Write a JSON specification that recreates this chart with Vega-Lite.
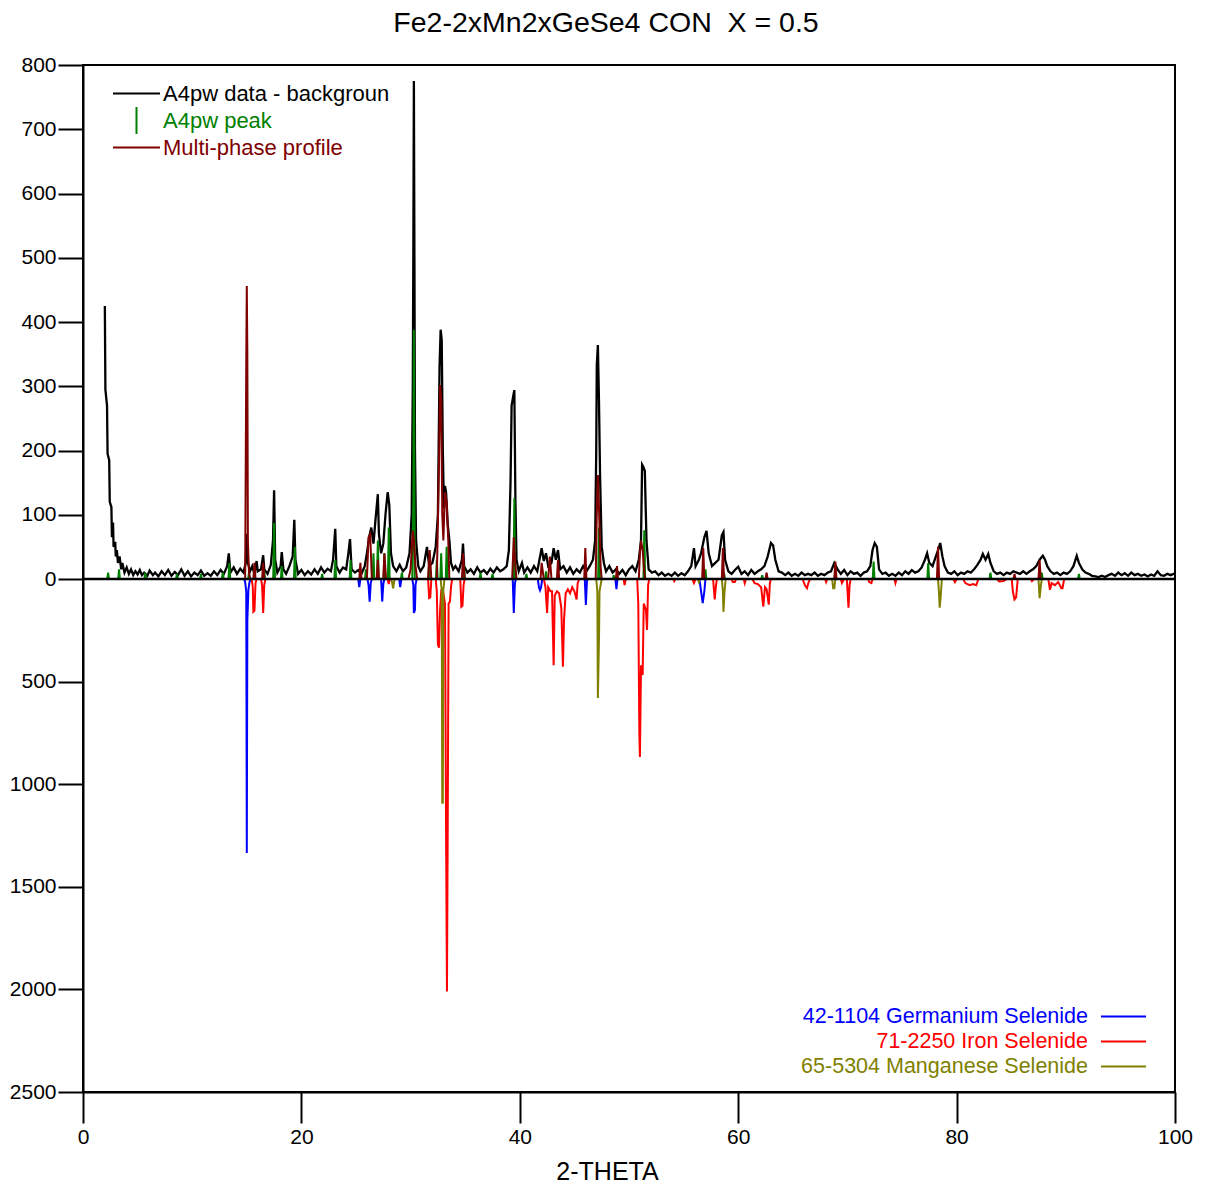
{
"$schema": "https://vega.github.io/schema/vega-lite/v6.json",
"width": 1092, "height": 1027,
"autosize": {"type": "none"},
"padding": {"left": 83, "top": 65, "right": 39, "bottom": 98},
"background": "white",
"title": {"text": "Fe2-2xMn2xGeSe4 CON\u00a0 X = 0.5", "fontSize": 28.5, "fontWeight": "normal", "color": "#000000", "anchor": "middle", "dx": -23, "offset": 17},
"datasets": {
"bg": [
{"theta":2.0,"counts":425},{"theta":2.05,"counts":295},{"theta":2.2,"counts":270},{"theta":2.25,"counts":195},{"theta":2.4,"counts":185},{"theta":2.45,"counts":120},{"theta":2.6,"counts":112},{"theta":2.65,"counts":65},{"theta":2.75,"counts":88},{"theta":2.8,"counts":50},{"theta":2.95,"counts":58},{"theta":3.0,"counts":35},{"theta":3.1,"counts":45},{"theta":3.2,"counts":25},{"theta":3.35,"counts":35},{"theta":3.5,"counts":15},{"theta":3.6,"counts":25},{"theta":3.8,"counts":10},{"theta":4.0,"counts":18},{"theta":4.2,"counts":8},{"theta":4.4,"counts":15},{"theta":4.6,"counts":6},{"theta":4.8,"counts":12},{"theta":5.0,"counts":7},{"theta":5.2,"counts":14},{"theta":5.4,"counts":6},{"theta":5.6,"counts":10},{"theta":5.9,"counts":5},{"theta":6.1,"counts":13},{"theta":6.4,"counts":6},{"theta":6.6,"counts":10},{"theta":6.9,"counts":4},{"theta":7.2,"counts":12},{"theta":7.5,"counts":6},{"theta":7.8,"counts":14},{"theta":8.1,"counts":5},{"theta":8.4,"counts":11},{"theta":8.7,"counts":6},{"theta":9.0,"counts":15},{"theta":9.3,"counts":5},{"theta":9.6,"counts":12},{"theta":9.9,"counts":4},{"theta":10.2,"counts":10},{"theta":10.5,"counts":6},{"theta":10.8,"counts":13},{"theta":11.1,"counts":5},{"theta":11.4,"counts":9},{"theta":11.7,"counts":5},{"theta":12.0,"counts":12},{"theta":12.3,"counts":6},{"theta":12.6,"counts":14},{"theta":12.9,"counts":8},{"theta":13.2,"counts":20},{"theta":13.35,"counts":40},{"theta":13.5,"counts":10},{"theta":13.8,"counts":18},{"theta":14.1,"counts":8},{"theta":14.4,"counts":16},{"theta":14.7,"counts":10},{"theta":14.9,"counts":25},{"theta":15.0,"counts":70},{"theta":15.1,"counts":25},{"theta":15.3,"counts":12},{"theta":15.5,"counts":20},{"theta":15.7,"counts":8},{"theta":15.9,"counts":28},{"theta":16.0,"counts":12},{"theta":16.3,"counts":15},{"theta":16.5,"counts":37},{"theta":16.6,"counts":15},{"theta":16.9,"counts":8},{"theta":17.2,"counts":22},{"theta":17.4,"counts":60},{"theta":17.5,"counts":138},{"theta":17.6,"counts":30},{"theta":17.8,"counts":10},{"theta":18.1,"counts":20},{"theta":18.2,"counts":42},{"theta":18.35,"counts":15},{"theta":18.6,"counts":8},{"theta":18.9,"counts":20},{"theta":19.2,"counts":35},{"theta":19.35,"counts":92},{"theta":19.45,"counts":30},{"theta":19.7,"counts":8},{"theta":20.0,"counts":14},{"theta":20.3,"counts":6},{"theta":20.6,"counts":12},{"theta":20.9,"counts":7},{"theta":21.2,"counts":15},{"theta":21.5,"counts":8},{"theta":21.8,"counts":18},{"theta":22.1,"counts":10},{"theta":22.4,"counts":16},{"theta":22.7,"counts":12},{"theta":22.9,"counts":30},{"theta":23.1,"counts":78},{"theta":23.2,"counts":20},{"theta":23.5,"counts":10},{"theta":23.8,"counts":18},{"theta":24.1,"counts":15},{"theta":24.3,"counts":40},{"theta":24.45,"counts":62},{"theta":24.6,"counts":15},{"theta":24.9,"counts":10},{"theta":25.2,"counts":14},{"theta":25.5,"counts":8},{"theta":25.8,"counts":20},{"theta":26.0,"counts":40},{"theta":26.2,"counts":65},{"theta":26.4,"counts":80},{"theta":26.6,"counts":55},{"theta":26.8,"counts":95},{"theta":27.0,"counts":132},{"theta":27.1,"counts":70},{"theta":27.3,"counts":40},{"theta":27.5,"counts":55},{"theta":27.7,"counts":100},{"theta":27.9,"counts":135},{"theta":28.05,"counts":115},{"theta":28.2,"counts":40},{"theta":28.4,"counts":20},{"theta":28.7,"counts":12},{"theta":29.0,"counts":22},{"theta":29.3,"counts":12},{"theta":29.6,"counts":18},{"theta":29.9,"counts":40},{"theta":30.1,"counts":100},{"theta":30.2,"counts":300},{"theta":30.25,"counts":505},{"theta":30.3,"counts":775},{"theta":30.35,"counts":500},{"theta":30.4,"counts":200},{"theta":30.5,"counts":60},{"theta":30.7,"counts":20},{"theta":30.9,"counts":12},{"theta":31.2,"counts":20},{"theta":31.5,"counts":50},{"theta":31.7,"counts":20},{"theta":32.0,"counts":25},{"theta":32.3,"counts":50},{"theta":32.5,"counts":100},{"theta":32.65,"counts":330},{"theta":32.75,"counts":388},{"theta":32.85,"counts":372},{"theta":32.95,"counts":200},{"theta":33.05,"counts":110},{"theta":33.15,"counts":145},{"theta":33.25,"counts":135},{"theta":33.4,"counts":85},{"theta":33.55,"counts":60},{"theta":33.7,"counts":25},{"theta":33.9,"counts":15},{"theta":34.1,"counts":20},{"theta":34.4,"counts":12},{"theta":34.7,"counts":30},{"theta":34.8,"counts":55},{"theta":34.9,"counts":20},{"theta":35.2,"counts":10},{"theta":35.5,"counts":15},{"theta":35.8,"counts":8},{"theta":36.1,"counts":18},{"theta":36.4,"counts":10},{"theta":36.7,"counts":14},{"theta":37.0,"counts":8},{"theta":37.3,"counts":16},{"theta":37.6,"counts":10},{"theta":37.9,"counts":18},{"theta":38.2,"counts":12},{"theta":38.5,"counts":15},{"theta":38.8,"counts":20},{"theta":39.0,"counts":45},{"theta":39.15,"counts":150},{"theta":39.25,"counts":270},{"theta":39.4,"counts":285},{"theta":39.5,"counts":294},{"theta":39.6,"counts":120},{"theta":39.7,"counts":30},{"theta":39.9,"counts":12},{"theta":40.2,"counts":25},{"theta":40.4,"counts":10},{"theta":40.7,"counts":18},{"theta":41.0,"counts":10},{"theta":41.3,"counts":20},{"theta":41.6,"counts":12},{"theta":41.8,"counts":30},{"theta":42.0,"counts":48},{"theta":42.2,"counts":28},{"theta":42.4,"counts":40},{"theta":42.6,"counts":20},{"theta":42.9,"counts":25},{"theta":43.1,"counts":48},{"theta":43.3,"counts":30},{"theta":43.5,"counts":45},{"theta":43.7,"counts":15},{"theta":44.0,"counts":20},{"theta":44.3,"counts":10},{"theta":44.6,"counts":18},{"theta":44.9,"counts":8},{"theta":45.2,"counts":15},{"theta":45.5,"counts":10},{"theta":45.8,"counts":20},{"theta":46.1,"counts":12},{"theta":46.4,"counts":20},{"theta":46.7,"counts":30},{"theta":46.9,"counts":60},{"theta":47.0,"counts":200},{"theta":47.05,"counts":333},{"theta":47.15,"counts":364},{"theta":47.25,"counts":278},{"theta":47.35,"counts":160},{"theta":47.5,"counts":50},{"theta":47.7,"counts":25},{"theta":47.9,"counts":12},{"theta":48.2,"counts":20},{"theta":48.5,"counts":10},{"theta":48.8,"counts":15},{"theta":49.1,"counts":8},{"theta":49.4,"counts":14},{"theta":49.7,"counts":6},{"theta":50.0,"counts":15},{"theta":50.3,"counts":20},{"theta":50.6,"counts":12},{"theta":50.9,"counts":30},{"theta":51.1,"counts":60},{"theta":51.2,"counts":178},{"theta":51.3,"counts":175},{"theta":51.45,"counts":168},{"theta":51.6,"counts":60},{"theta":51.8,"counts":15},{"theta":52.1,"counts":10},{"theta":52.4,"counts":12},{"theta":52.7,"counts":6},{"theta":53.0,"counts":10},{"theta":53.3,"counts":5},{"theta":53.6,"counts":8},{"theta":53.9,"counts":5},{"theta":54.2,"counts":10},{"theta":54.5,"counts":5},{"theta":54.8,"counts":9},{"theta":55.1,"counts":6},{"theta":55.4,"counts":12},{"theta":55.7,"counts":20},{"theta":55.95,"counts":48},{"theta":56.1,"counts":20},{"theta":56.4,"counts":30},{"theta":56.6,"counts":40},{"theta":56.9,"counts":65},{"theta":57.1,"counts":75},{"theta":57.3,"counts":40},{"theta":57.6,"counts":20},{"theta":57.9,"counts":25},{"theta":58.2,"counts":30},{"theta":58.5,"counts":68},{"theta":58.65,"counts":73},{"theta":58.8,"counts":30},{"theta":59.1,"counts":12},{"theta":59.4,"counts":8},{"theta":59.7,"counts":14},{"theta":60.0,"counts":19},{"theta":60.3,"counts":8},{"theta":60.6,"counts":12},{"theta":60.9,"counts":6},{"theta":61.2,"counts":14},{"theta":61.5,"counts":8},{"theta":61.8,"counts":12},{"theta":62.1,"counts":15},{"theta":62.4,"counts":20},{"theta":62.7,"counts":35},{"theta":63.0,"counts":56},{"theta":63.2,"counts":52},{"theta":63.4,"counts":30},{"theta":63.7,"counts":12},{"theta":64.0,"counts":10},{"theta":64.3,"counts":6},{"theta":64.6,"counts":10},{"theta":64.9,"counts":5},{"theta":65.2,"counts":8},{"theta":65.5,"counts":5},{"theta":65.8,"counts":10},{"theta":66.1,"counts":6},{"theta":66.4,"counts":8},{"theta":66.7,"counts":6},{"theta":67.0,"counts":10},{"theta":67.3,"counts":5},{"theta":67.6,"counts":8},{"theta":67.9,"counts":6},{"theta":68.2,"counts":10},{"theta":68.5,"counts":12},{"theta":68.8,"counts":25},{"theta":69.1,"counts":15},{"theta":69.4,"counts":8},{"theta":69.7,"counts":14},{"theta":70.0,"counts":6},{"theta":70.3,"counts":12},{"theta":70.6,"counts":8},{"theta":70.9,"counts":10},{"theta":71.2,"counts":5},{"theta":71.5,"counts":10},{"theta":71.8,"counts":12},{"theta":72.1,"counts":20},{"theta":72.3,"counts":45},{"theta":72.5,"counts":56},{"theta":72.7,"counts":50},{"theta":72.9,"counts":15},{"theta":73.2,"counts":8},{"theta":73.5,"counts":10},{"theta":73.8,"counts":5},{"theta":74.1,"counts":8},{"theta":74.4,"counts":5},{"theta":74.7,"counts":10},{"theta":75.0,"counts":6},{"theta":75.3,"counts":12},{"theta":75.6,"counts":8},{"theta":75.9,"counts":14},{"theta":76.2,"counts":10},{"theta":76.5,"counts":12},{"theta":76.8,"counts":18},{"theta":77.1,"counts":30},{"theta":77.3,"counts":40},{"theta":77.5,"counts":25},{"theta":77.8,"counts":20},{"theta":78.0,"counts":30},{"theta":78.3,"counts":45},{"theta":78.5,"counts":56},{"theta":78.7,"counts":35},{"theta":78.9,"counts":20},{"theta":79.2,"counts":10},{"theta":79.5,"counts":8},{"theta":79.8,"counts":12},{"theta":80.1,"counts":6},{"theta":80.4,"counts":10},{"theta":80.7,"counts":8},{"theta":81.0,"counts":12},{"theta":81.3,"counts":10},{"theta":81.6,"counts":15},{"theta":81.9,"counts":22},{"theta":82.2,"counts":30},{"theta":82.4,"counts":39},{"theta":82.65,"counts":30},{"theta":82.9,"counts":39},{"theta":83.1,"counts":25},{"theta":83.4,"counts":12},{"theta":83.7,"counts":8},{"theta":84.0,"counts":10},{"theta":84.3,"counts":6},{"theta":84.6,"counts":10},{"theta":84.9,"counts":8},{"theta":85.2,"counts":12},{"theta":85.5,"counts":10},{"theta":85.8,"counts":8},{"theta":86.1,"counts":12},{"theta":86.4,"counts":8},{"theta":86.7,"counts":12},{"theta":87.0,"counts":15},{"theta":87.3,"counts":20},{"theta":87.6,"counts":30},{"theta":87.9,"counts":36},{"theta":88.1,"counts":30},{"theta":88.3,"counts":20},{"theta":88.6,"counts":12},{"theta":88.9,"counts":8},{"theta":89.2,"counts":10},{"theta":89.5,"counts":6},{"theta":89.8,"counts":10},{"theta":90.1,"counts":8},{"theta":90.4,"counts":12},{"theta":90.7,"counts":20},{"theta":91.0,"counts":36},{"theta":91.2,"counts":25},{"theta":91.5,"counts":15},{"theta":91.8,"counts":10},{"theta":92.1,"counts":8},{"theta":92.4,"counts":5},{"theta":92.7,"counts":4},{"theta":93.0,"counts":3},{"theta":93.3,"counts":5},{"theta":93.6,"counts":3},{"theta":93.9,"counts":6},{"theta":94.2,"counts":8},{"theta":94.5,"counts":5},{"theta":94.8,"counts":10},{"theta":95.1,"counts":6},{"theta":95.4,"counts":9},{"theta":95.7,"counts":5},{"theta":96.0,"counts":10},{"theta":96.3,"counts":6},{"theta":96.6,"counts":8},{"theta":96.9,"counts":5},{"theta":97.2,"counts":7},{"theta":97.5,"counts":4},{"theta":97.8,"counts":7},{"theta":98.1,"counts":5},{"theta":98.4,"counts":12},{"theta":98.7,"counts":6},{"theta":99.0,"counts":5},{"theta":99.3,"counts":8},{"theta":99.6,"counts":6},{"theta":100.0,"counts":9}
],
"peaks": [
{"theta":2.0,"counts":0},{"theta":2.22,"counts":0},{"theta":2.3,"counts":10},{"theta":2.38,"counts":0},{"theta":3.22,"counts":0},{"theta":3.3,"counts":15},{"theta":3.38,"counts":0},{"theta":5.62,"counts":0},{"theta":5.7,"counts":10},{"theta":5.78,"counts":0},{"theta":8.52,"counts":0},{"theta":8.6,"counts":8},{"theta":8.68,"counts":0},{"theta":10.72,"counts":0},{"theta":10.8,"counts":8},{"theta":10.88,"counts":0},{"theta":12.72,"counts":0},{"theta":12.8,"counts":10},{"theta":12.88,"counts":0},{"theta":13.32,"counts":0},{"theta":13.4,"counts":25},{"theta":13.48,"counts":0},{"theta":15.12,"counts":0},{"theta":15.2,"counts":10},{"theta":15.28,"counts":0},{"theta":16.52,"counts":0},{"theta":16.6,"counts":12},{"theta":16.68,"counts":0},{"theta":17.42,"counts":0},{"theta":17.5,"counts":87},{"theta":17.58,"counts":0},{"theta":18.12,"counts":0},{"theta":18.2,"counts":20},{"theta":18.28,"counts":0},{"theta":19.32,"counts":0},{"theta":19.4,"counts":50},{"theta":19.48,"counts":0},{"theta":21.82,"counts":0},{"theta":21.9,"counts":8},{"theta":21.98,"counts":0},{"theta":23.02,"counts":0},{"theta":23.1,"counts":30},{"theta":23.18,"counts":0},{"theta":24.42,"counts":0},{"theta":24.5,"counts":30},{"theta":24.58,"counts":0},{"theta":25.82,"counts":0},{"theta":25.9,"counts":15},{"theta":25.98,"counts":0},{"theta":26.52,"counts":0},{"theta":26.6,"counts":40},{"theta":26.68,"counts":0},{"theta":26.92,"counts":0},{"theta":27.0,"counts":60},{"theta":27.08,"counts":0},{"theta":27.52,"counts":0},{"theta":27.6,"counts":40},{"theta":27.68,"counts":0},{"theta":27.92,"counts":0},{"theta":28.0,"counts":80},{"theta":28.08,"counts":0},{"theta":29.12,"counts":0},{"theta":29.2,"counts":10},{"theta":29.28,"counts":0},{"theta":30.15,"counts":0},{"theta":30.25,"counts":120},{"theta":30.3,"counts":388},{"theta":30.38,"counts":0},{"theta":31.62,"counts":0},{"theta":31.7,"counts":30},{"theta":31.78,"counts":0},{"theta":32.32,"counts":0},{"theta":32.4,"counts":30},{"theta":32.48,"counts":0},{"theta":32.72,"counts":0},{"theta":32.8,"counts":40},{"theta":32.88,"counts":0},{"theta":33.22,"counts":0},{"theta":33.3,"counts":50},{"theta":33.38,"counts":0},{"theta":34.82,"counts":0},{"theta":34.9,"counts":20},{"theta":34.98,"counts":0},{"theta":36.32,"counts":0},{"theta":36.4,"counts":10},{"theta":36.48,"counts":0},{"theta":37.42,"counts":0},{"theta":37.5,"counts":8},{"theta":37.58,"counts":0},{"theta":39.42,"counts":0},{"theta":39.5,"counts":126},{"theta":39.58,"counts":0},{"theta":40.52,"counts":0},{"theta":40.6,"counts":8},{"theta":40.68,"counts":0},{"theta":42.32,"counts":0},{"theta":42.4,"counts":12},{"theta":42.48,"counts":0},{"theta":43.42,"counts":0},{"theta":43.5,"counts":10},{"theta":43.58,"counts":0},{"theta":47.17,"counts":0},{"theta":47.25,"counts":80},{"theta":47.33,"counts":0},{"theta":48.52,"counts":0},{"theta":48.6,"counts":6},{"theta":48.68,"counts":0},{"theta":51.32,"counts":0},{"theta":51.4,"counts":76},{"theta":51.48,"counts":0},{"theta":56.92,"counts":0},{"theta":57.0,"counts":15},{"theta":57.08,"counts":0},{"theta":58.62,"counts":0},{"theta":58.7,"counts":10},{"theta":58.78,"counts":0},{"theta":62.12,"counts":0},{"theta":62.2,"counts":6},{"theta":62.28,"counts":0},{"theta":68.82,"counts":0},{"theta":68.9,"counts":12},{"theta":68.98,"counts":0},{"theta":72.32,"counts":0},{"theta":72.4,"counts":27},{"theta":72.48,"counts":0},{"theta":77.32,"counts":0},{"theta":77.4,"counts":25},{"theta":77.48,"counts":0},{"theta":83.02,"counts":0},{"theta":83.1,"counts":10},{"theta":83.18,"counts":0},{"theta":87.72,"counts":0},{"theta":87.8,"counts":10},{"theta":87.88,"counts":0},{"theta":91.12,"counts":0},{"theta":91.2,"counts":8},{"theta":91.28,"counts":0},{"theta":100.0,"counts":0}
],
"profile": [
{"theta":13.0,"counts":0},{"theta":14.85,"counts":0},{"theta":14.95,"counts":340},{"theta":15.0,"counts":456},{"theta":15.05,"counts":350},{"theta":15.1,"counts":60},{"theta":15.2,"counts":10},{"theta":15.3,"counts":0},{"theta":15.6,"counts":0},{"theta":15.7,"counts":25},{"theta":15.8,"counts":0},{"theta":16.4,"counts":0},{"theta":16.5,"counts":25},{"theta":16.6,"counts":0},{"theta":25.3,"counts":0},{"theta":25.4,"counts":25},{"theta":25.5,"counts":0},{"theta":26.0,"counts":0},{"theta":26.15,"counts":65},{"theta":26.3,"counts":70},{"theta":26.45,"counts":0},{"theta":26.9,"counts":0},{"theta":27.0,"counts":30},{"theta":27.1,"counts":0},{"theta":27.5,"counts":0},{"theta":27.6,"counts":40},{"theta":27.75,"counts":0},{"theta":29.8,"counts":0},{"theta":30.0,"counts":15},{"theta":30.2,"counts":75},{"theta":30.3,"counts":60},{"theta":30.45,"counts":20},{"theta":30.6,"counts":0},{"theta":31.6,"counts":0},{"theta":31.75,"counts":45},{"theta":31.9,"counts":0},{"theta":32.4,"counts":0},{"theta":32.6,"counts":180},{"theta":32.7,"counts":302},{"theta":32.8,"counts":280},{"theta":32.9,"counts":100},{"theta":33.0,"counts":60},{"theta":33.15,"counts":135},{"theta":33.3,"counts":120},{"theta":33.45,"counts":60},{"theta":33.55,"counts":0},{"theta":34.7,"counts":0},{"theta":34.8,"counts":40},{"theta":34.95,"counts":0},{"theta":39.3,"counts":0},{"theta":39.45,"counts":65},{"theta":39.6,"counts":20},{"theta":39.7,"counts":0},{"theta":41.9,"counts":0},{"theta":42.0,"counts":25},{"theta":42.2,"counts":0},{"theta":42.6,"counts":0},{"theta":42.75,"counts":35},{"theta":42.9,"counts":0},{"theta":43.4,"counts":0},{"theta":43.5,"counts":30},{"theta":43.6,"counts":0},{"theta":45.9,"counts":0},{"theta":46.0,"counts":48},{"theta":46.1,"counts":0},{"theta":46.95,"counts":0},{"theta":47.05,"counts":100},{"theta":47.15,"counts":162},{"theta":47.25,"counts":110},{"theta":47.4,"counts":20},{"theta":47.5,"counts":0},{"theta":48.8,"counts":0},{"theta":48.9,"counts":20},{"theta":49.0,"counts":0},{"theta":50.9,"counts":0},{"theta":51.0,"counts":40},{"theta":51.1,"counts":60},{"theta":51.25,"counts":45},{"theta":51.4,"counts":10},{"theta":51.5,"counts":0},{"theta":56.7,"counts":0},{"theta":56.8,"counts":48},{"theta":56.9,"counts":0},{"theta":58.5,"counts":0},{"theta":58.6,"counts":48},{"theta":58.7,"counts":0},{"theta":62.5,"counts":0},{"theta":62.6,"counts":10},{"theta":62.7,"counts":0},{"theta":68.8,"counts":0},{"theta":68.9,"counts":27},{"theta":69.0,"counts":0},{"theta":78.2,"counts":0},{"theta":78.3,"counts":50},{"theta":78.4,"counts":0},{"theta":85.2,"counts":0},{"theta":85.3,"counts":8},{"theta":85.4,"counts":0},{"theta":87.5,"counts":0},{"theta":87.6,"counts":30},{"theta":87.7,"counts":0},{"theta":100.0,"counts":0}
],
"ge": [
{"theta":2.0,"counts":0},{"theta":14.75,"counts":0},{"theta":14.85,"counts":15},{"theta":14.95,"counts":60},{"theta":15.0,"counts":1335},{"theta":15.05,"counts":200},{"theta":15.15,"counts":50},{"theta":15.25,"counts":15},{"theta":15.35,"counts":0},{"theta":25.2,"counts":0},{"theta":25.3,"counts":40},{"theta":25.4,"counts":0},{"theta":26.05,"counts":0},{"theta":26.15,"counts":30},{"theta":26.25,"counts":110},{"theta":26.35,"counts":20},{"theta":26.45,"counts":0},{"theta":27.3,"counts":0},{"theta":27.4,"counts":110},{"theta":27.5,"counts":25},{"theta":27.6,"counts":0},{"theta":28.95,"counts":0},{"theta":29.05,"counts":40},{"theta":29.15,"counts":0},{"theta":30.15,"counts":0},{"theta":30.25,"counts":30},{"theta":30.3,"counts":165},{"theta":30.4,"counts":150},{"theta":30.45,"counts":30},{"theta":30.55,"counts":0},{"theta":39.35,"counts":0},{"theta":39.45,"counts":165},{"theta":39.55,"counts":20},{"theta":39.65,"counts":0},{"theta":41.65,"counts":0},{"theta":41.75,"counts":40},{"theta":41.85,"counts":55},{"theta":41.95,"counts":40},{"theta":42.05,"counts":0},{"theta":45.95,"counts":0},{"theta":46.05,"counts":127},{"theta":46.15,"counts":10},{"theta":46.25,"counts":0},{"theta":48.75,"counts":0},{"theta":48.85,"counts":49},{"theta":48.95,"counts":0},{"theta":56.45,"counts":0},{"theta":56.6,"counts":60},{"theta":56.75,"counts":117},{"theta":56.9,"counts":60},{"theta":57.0,"counts":0},{"theta":100.0,"counts":0}
],
"fe": [
{"theta":2.0,"counts":0},{"theta":15.45,"counts":0},{"theta":15.55,"counts":40},{"theta":15.6,"counts":160},{"theta":15.7,"counts":155},{"theta":15.8,"counts":20},{"theta":15.9,"counts":0},{"theta":16.3,"counts":0},{"theta":16.4,"counts":30},{"theta":16.5,"counts":165},{"theta":16.6,"counts":30},{"theta":16.7,"counts":0},{"theta":27.9,"counts":0},{"theta":28.0,"counts":25},{"theta":28.1,"counts":0},{"theta":31.6,"counts":0},{"theta":31.7,"counts":93},{"theta":31.8,"counts":90},{"theta":31.9,"counts":0},{"theta":32.3,"counts":0},{"theta":32.4,"counts":60},{"theta":32.5,"counts":320},{"theta":32.6,"counts":335},{"theta":32.7,"counts":150},{"theta":32.8,"counts":60},{"theta":33.0,"counts":70},{"theta":33.15,"counts":120},{"theta":33.25,"counts":1250},{"theta":33.33,"counts":2010},{"theta":33.4,"counts":1200},{"theta":33.48,"counts":120},{"theta":33.6,"counts":110},{"theta":33.7,"counts":40},{"theta":33.8,"counts":0},{"theta":34.55,"counts":0},{"theta":34.65,"counts":135},{"theta":34.75,"counts":130},{"theta":34.85,"counts":30},{"theta":34.95,"counts":0},{"theta":42.2,"counts":0},{"theta":42.35,"counts":40},{"theta":42.5,"counts":165},{"theta":42.6,"counts":40},{"theta":42.8,"counts":60},{"theta":42.95,"counts":60},{"theta":43.1,"counts":420},{"theta":43.2,"counts":80},{"theta":43.4,"counts":60},{"theta":43.6,"counts":70},{"theta":43.8,"counts":140},{"theta":43.95,"counts":428},{"theta":44.05,"counts":200},{"theta":44.2,"counts":70},{"theta":44.4,"counts":50},{"theta":44.6,"counts":70},{"theta":44.8,"counts":40},{"theta":45.0,"counts":60},{"theta":45.2,"counts":100},{"theta":45.3,"counts":20},{"theta":45.45,"counts":0},{"theta":49.5,"counts":0},{"theta":49.6,"counts":30},{"theta":49.7,"counts":0},{"theta":50.75,"counts":0},{"theta":50.85,"counts":120},{"theta":50.95,"counts":760},{"theta":51.0,"counts":867},{"theta":51.1,"counts":420},{"theta":51.25,"counts":468},{"theta":51.35,"counts":120},{"theta":51.55,"counts":150},{"theta":51.65,"counts":248},{"theta":51.75,"counts":30},{"theta":51.85,"counts":0},{"theta":54.05,"counts":0},{"theta":54.15,"counts":10},{"theta":54.25,"counts":0},{"theta":55.8,"counts":0},{"theta":55.95,"counts":20},{"theta":56.1,"counts":0},{"theta":57.7,"counts":0},{"theta":57.85,"counts":100},{"theta":57.95,"counts":40},{"theta":58.05,"counts":0},{"theta":59.4,"counts":0},{"theta":59.5,"counts":15},{"theta":59.7,"counts":15},{"theta":59.8,"counts":0},{"theta":60.5,"counts":0},{"theta":60.6,"counts":20},{"theta":60.7,"counts":0},{"theta":61.3,"counts":0},{"theta":61.5,"counts":20},{"theta":61.8,"counts":25},{"theta":62.1,"counts":40},{"theta":62.3,"counts":135},{"theta":62.45,"counts":40},{"theta":62.6,"counts":50},{"theta":62.8,"counts":125},{"theta":62.9,"counts":20},{"theta":63.0,"counts":0},{"theta":65.9,"counts":0},{"theta":66.1,"counts":30},{"theta":66.3,"counts":45},{"theta":66.45,"counts":15},{"theta":66.6,"counts":0},{"theta":67.95,"counts":0},{"theta":68.05,"counts":15},{"theta":68.15,"counts":0},{"theta":69.4,"counts":0},{"theta":69.5,"counts":20},{"theta":69.7,"counts":0},{"theta":69.95,"counts":0},{"theta":70.1,"counts":140},{"theta":70.2,"counts":30},{"theta":70.3,"counts":0},{"theta":71.9,"counts":0},{"theta":72.0,"counts":15},{"theta":72.2,"counts":20},{"theta":72.3,"counts":0},{"theta":74.3,"counts":0},{"theta":74.4,"counts":20},{"theta":74.5,"counts":0},{"theta":79.7,"counts":0},{"theta":79.85,"counts":15},{"theta":80.0,"counts":0},{"theta":80.6,"counts":0},{"theta":80.8,"counts":20},{"theta":81.2,"counts":30},{"theta":81.5,"counts":25},{"theta":81.8,"counts":30},{"theta":82.0,"counts":0},{"theta":83.7,"counts":0},{"theta":83.9,"counts":12},{"theta":84.3,"counts":10},{"theta":84.6,"counts":0},{"theta":85.05,"counts":0},{"theta":85.15,"counts":60},{"theta":85.3,"counts":100},{"theta":85.45,"counts":90},{"theta":85.6,"counts":0},{"theta":86.8,"counts":0},{"theta":86.9,"counts":10},{"theta":87.1,"counts":0},{"theta":88.4,"counts":0},{"theta":88.55,"counts":53},{"theta":88.7,"counts":20},{"theta":89.0,"counts":30},{"theta":89.3,"counts":15},{"theta":89.6,"counts":45},{"theta":89.7,"counts":45},{"theta":89.85,"counts":0},{"theta":100.0,"counts":0}
],
"mn": [
{"theta":2.0,"counts":0},{"theta":28.2,"counts":0},{"theta":28.3,"counts":15},{"theta":28.4,"counts":45},{"theta":28.5,"counts":10},{"theta":28.6,"counts":0},{"theta":32.75,"counts":0},{"theta":32.8,"counts":30},{"theta":32.85,"counts":50},{"theta":32.9,"counts":1090},{"theta":32.95,"counts":1090},{"theta":33.0,"counts":50},{"theta":33.05,"counts":30},{"theta":33.1,"counts":0},{"theta":47.0,"counts":0},{"theta":47.05,"counts":30},{"theta":47.1,"counts":60},{"theta":47.15,"counts":580},{"theta":47.25,"counts":300},{"theta":47.3,"counts":60},{"theta":47.4,"counts":30},{"theta":47.5,"counts":0},{"theta":56.3,"counts":0},{"theta":56.4,"counts":15},{"theta":56.5,"counts":0},{"theta":58.5,"counts":0},{"theta":58.6,"counts":60},{"theta":58.65,"counts":160},{"theta":58.75,"counts":60},{"theta":58.85,"counts":0},{"theta":68.6,"counts":0},{"theta":68.7,"counts":45},{"theta":68.8,"counts":45},{"theta":68.9,"counts":0},{"theta":78.3,"counts":0},{"theta":78.4,"counts":80},{"theta":78.45,"counts":140},{"theta":78.55,"counts":80},{"theta":78.65,"counts":0},{"theta":87.5,"counts":0},{"theta":87.6,"counts":93},{"theta":87.7,"counts":40},{"theta":87.8,"counts":0},{"theta":100.0,"counts":0}
]
},
"layer": [
{
"encoding": {
"x": {"field": "theta", "type": "quantitative", "scale": {"domain": [0, 100], "nice": false, "zero": false},
"axis": {"values": [0, 20, 40, 60, 80, 100], "labelFlush": false, "tickSize": 31, "labelPadding": 3, "title": "2-THETA", "titleFontSize": 25, "titleX": 524, "titlePadding": 12}},
"y": {"field": "counts", "type": "quantitative", "scale": {"domain": [0, 800], "range": [514, 0], "nice": false},
"axis": {"orient": "left", "values": [0, 100, 200, 300, 400, 500, 600, 700, 800], "format": "d", "title": null, "labelFlush": false, "tickSize": 25, "labelPadding": 2}}
},
"layer": [
{"data": {"name": "bg"}, "mark": {"type": "line", "strokeWidth": 2.3},
"encoding": {"color": {"datum": "A4pw data - background", "type": "nominal",
"scale": {"domain": ["A4pw data - background", "A4pw peaks", "Multi-phase profile"], "range": ["#000000", "#008000", "#800000"]},
"legend": {"orient": "none", "legendX": 29, "legendY": 15, "title": null, "symbolType": "stroke", "symbolSize": 2209, "symbolStrokeWidth": 2, "clipHeight": 27, "rowPadding": 0, "labelOffset": 2, "labelFontSize": 22, "labelLimit": 400,
"labelExpr": "datum.label == 'A4pw data - background' ? 'A4pw data - backgroun' : (datum.label == 'A4pw peaks' ? 'A4pw peak' : datum.label)",
"encode": {"labels": {"update": {"fill": {"scale": "color", "field": "value"}}},
"symbols": {"update": {"shape": {"signal": "datum.value == 'A4pw peaks' ? 'M0,-0.57L0,0.57' : 'stroke'"}}}}}}}},
{"data": {"name": "peaks"}, "mark": {"type": "line", "strokeWidth": 2},
"encoding": {"color": {"datum": "A4pw peaks", "type": "nominal"}}},
{"data": {"name": "profile"}, "mark": {"type": "line", "strokeWidth": 2},
"encoding": {"color": {"datum": "Multi-phase profile", "type": "nominal"}}}
]
},
{
"encoding": {
"x": {"field": "theta", "type": "quantitative", "scale": {"domain": [0, 100], "nice": false, "zero": false}},
"y": {"field": "counts", "type": "quantitative", "scale": {"domain": [0, 2500], "range": [514, 1027], "nice": false},
"axis": {"orient": "left", "values": [500, 1000, 1500, 2000, 2500], "format": "d", "title": null, "labelFlush": false, "tickSize": 25, "labelPadding": 2}}
},
"layer": [
{"data": {"name": "ge"}, "mark": {"type": "line", "strokeWidth": 2},
"encoding": {"stroke": {"datum": "42-1104 Germanium Selenide", "type": "nominal",
"scale": {"domain": ["42-1104 Germanium Selenide", "71-2250 Iron Selenide", "65-5304 Manganese Selenide"], "range": ["#0000ff", "#ff0000", "#808000"]},
"legend": {"orient": "none", "legendX": 1028, "legendY": 939, "title": null, "symbolType": "M-1.96,0L1.96,0", "symbolSize": 529, "symbolStrokeWidth": 2, "rowPadding": 2, "labelAlign": "right", "labelOffset": -48, "labelFontSize": 21.5, "labelLimit": 400,
"encode": {"labels": {"update": {"fill": {"scale": "stroke", "field": "value"}}},
"symbols": {"update": {"stroke": {"scale": "stroke", "field": "value"}, "strokeWidth": {"value": 2}, "fill": {"value": "transparent"}}}}}}}},
{"data": {"name": "fe"}, "mark": {"type": "line", "strokeWidth": 2},
"encoding": {"stroke": {"datum": "71-2250 Iron Selenide", "type": "nominal"}}},
{"data": {"name": "mn"}, "mark": {"type": "line", "strokeWidth": 2},
"encoding": {"stroke": {"datum": "65-5304 Manganese Selenide", "type": "nominal"}}}
]
},
{
"data": {"values": [{}]},
"mark": {"type": "rule", "color": "#000000", "strokeWidth": 2.5},
"encoding": {"y": {"datum": 0, "type": "quantitative", "scale": {"domain": [0, 800], "range": [514, 0], "nice": false}, "axis": null}}
}
],
"resolve": {"scale": {"y": "independent"}, "axis": {"y": "independent"}},
"config": {
"font": "Liberation Sans",
"view": {"stroke": "#000000", "strokeWidth": 2},
"axis": {"domainColor": "#000000", "domainWidth": 2, "tickColor": "#000000", "tickWidth": 2, "labelColor": "#000000", "labelFontSize": 21, "labelFont": "Liberation Sans", "grid": false, "titleColor": "#000000", "titleFontWeight": "normal", "titleFont": "Liberation Sans"},
"legend": {"labelFont": "Liberation Sans", "padding": 0, "offset": 0},
"title": {"font": "Liberation Sans"}
}
}
